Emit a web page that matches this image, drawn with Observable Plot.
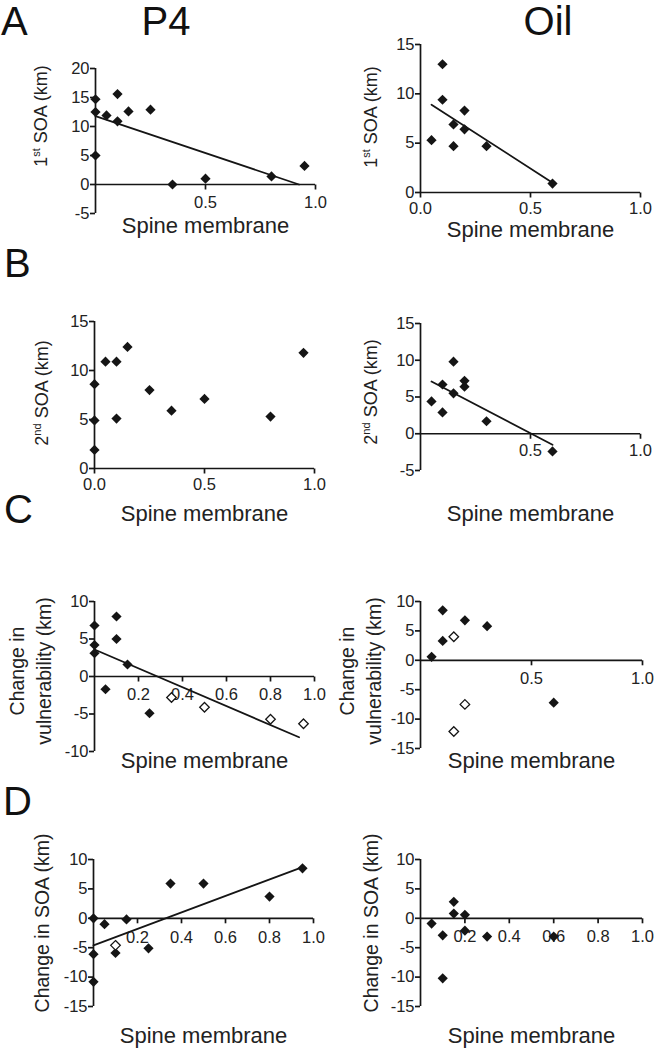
<!DOCTYPE html>
<html><head><meta charset="utf-8">
<script src="https://cdn.jsdelivr.net/npm/d3@7"></script>
<script src="https://cdn.jsdelivr.net/npm/@observablehq/plot@0.6"></script>
<style>
body{margin:0;background:#fff;}
#fig{position:relative;width:667px;height:1049px;overflow:hidden;font-family:"Liberation Sans",Arial,Helvetica,sans-serif;}
#fig .panel{position:absolute;}
#overlay{position:absolute;left:0;top:0;pointer-events:none;}
</style></head><body><div id="fig"></div>
<script>
// ---------------- data ----------------
const titles = ["P4", "Oil"];
const rowLetters = ["A", "B", "C", "D"];
const xTitle = "Spine membrane";

// A: 1st SOA (km)
const A_P4_x = [0, 0, 0, 0.05, 0.1, 0.1, 0.15, 0.25, 0.35, 0.5, 0.8, 0.95];
const A_P4_y = [14.7, 12.5, 5.0, 11.9, 15.6, 10.9, 12.6, 12.9, 0, 1.0, 1.4, 3.2];
const A_P4_lineX = [0, 0.925];
const A_P4_lineY = [11.8, 0];
const A_Oil_x = [0.05, 0.1, 0.1, 0.15, 0.15, 0.2, 0.2, 0.3, 0.6];
const A_Oil_y = [5.3, 13.0, 9.4, 6.9, 4.7, 8.3, 6.4, 4.7, 0.9];
const A_Oil_lineX = [0.05, 0.6];
const A_Oil_lineY = [8.9, 1.0];

// B: 2nd SOA (km)
const B_P4_x = [0, 0, 0, 0.05, 0.1, 0.1, 0.15, 0.25, 0.35, 0.5, 0.8, 0.95];
const B_P4_y = [8.6, 4.9, 1.9, 10.9, 10.9, 5.1, 12.4, 8.0, 5.9, 7.1, 5.3, 11.8];
const B_Oil_x = [0.05, 0.1, 0.1, 0.15, 0.15, 0.2, 0.2, 0.3, 0.6];
const B_Oil_y = [4.4, 6.7, 2.9, 9.8, 5.5, 7.2, 6.4, 1.7, -2.4];
const B_Oil_lineX = [0.05, 0.6];
const B_Oil_lineY = [7.1, -1.5];

// C: change in vulnerability (km)
const C_P4_x = [0, 0, 0, 0.05, 0.1, 0.1, 0.15, 0.25];
const C_P4_y = [6.8, 4.2, 3.1, -1.7, 8.0, 5.0, 1.6, -4.9];
const C_P4_openX = [0.35, 0.5, 0.8, 0.95];
const C_P4_openY = [-2.8, -4.1, -5.7, -6.3];
const C_P4_lineX = [0, 0.93];
const C_P4_lineY = [3.6, -8.1];
const C_Oil_x = [0.05, 0.1, 0.1, 0.2, 0.3, 0.6];
const C_Oil_y = [0.6, 8.5, 3.3, 6.8, 5.8, -7.2];
const C_Oil_openX = [0.15, 0.2, 0.15];
const C_Oil_openY = [4.0, -7.5, -12.1];

// D: change in SOA (km)
const D_P4_x = [0, 0, 0, 0.05, 0.1, 0.15, 0.25, 0.35, 0.5, 0.8, 0.95];
const D_P4_y = [0, -6.1, -10.8, -1.0, -5.9, -0.2, -5.1, 5.9, 5.9, 3.7, 8.5];
const D_P4_openX = [0.1];
const D_P4_openY = [-4.6];
const D_P4_lineX = [0, 0.95];
const D_P4_lineY = [-4.6, 8.7];
const D_Oil_x = [0.05, 0.1, 0.1, 0.15, 0.15, 0.2, 0.2, 0.3, 0.6];
const D_Oil_y = [-0.9, -2.9, -10.2, 2.8, 0.8, 0.6, -2.1, -3.1, -3.1];

// tick values / labels
const yTicks_A_P4 = [-5, 0, 5, 10, 15, 20];
const yTicks_A_Oil = [0, 5, 10, 15];
const yTicks_B_P4 = [0, 5, 10, 15];
const yTicks_B_Oil = [-5, 0, 5, 10, 15];
const yTicks_C_P4 = [-10, -5, 0, 5, 10];
const yTicks_C_Oil = [-15, -10, -5, 0, 5, 10];
const yTicks_D = [-15, -10, -5, 0, 5, 10];
const xTicksHalf = [0.5, 1.0];
const xLabelsHalf = ["0.5", "1.0"];
const xTicksHalf0 = [0, 0.5, 1.0];
const xLabelsHalf0 = ["0.0", "0.5", "1.0"];
const xTicksFifth = [0.2, 0.4, 0.6, 0.8, 1.0];
const xLabelsFifth = ["0.2", "0.4", "0.6", "0.8", "1.0"];

// ---------------- layout ----------------
const FONT = "Liberation Sans, Arial, Helvetica, sans-serif";
const INK = "#151515";
const TICKFONT = 16.5;
const tickDown = {draw(ctx) { ctx.moveTo(0, 0); ctx.lineTo(0, 5); }};

const panels = [
  {left: 0, top: 40, width: 333, height: 200, mL: 95, mR: 18, mT: 28, mB: 27, labelDy: 12, tickDy: 12,
   yDomain: [-5, 20], yTicks: yTicks_A_P4, xTicks: xTicksHalf, xLabels: xLabelsHalf,
   x: A_P4_x, y: A_P4_y, lineX: A_P4_lineX, lineY: A_P4_lineY},
  {left: 333, top: 40, width: 334, height: 200, mL: 87, mR: 27, mT: 4, mB: 48, labelDy: 37, tickDy: 10,
   yDomain: [0, 15], yTicks: yTicks_A_Oil, xTicks: xTicksHalf0, xLabels: xLabelsHalf0,
   x: A_Oil_x, y: A_Oil_y, lineX: A_Oil_lineX, lineY: A_Oil_lineY},
  {left: 0, top: 240, width: 333, height: 290, mL: 94, mR: 19, mT: 81, mB: 62, labelDy: 45, tickDy: 10,
   yDomain: [0, 15], yTicks: yTicks_B_P4, xTicks: xTicksHalf0, xLabels: xLabelsHalf0,
   x: B_P4_x, y: B_P4_y},
  {left: 333, top: 240, width: 334, height: 290, mL: 87, mR: 27, mT: 83, mB: 60, labelDy: 43, tickDy: 11,
   yDomain: [-5, 15], yTicks: yTicks_B_Oil, xTicks: xTicksHalf, xLabels: xLabelsHalf,
   x: B_Oil_x, y: B_Oil_y, lineX: B_Oil_lineX, lineY: B_Oil_lineY},
  {left: 0, top: 530, width: 333, height: 250, mL: 94, mR: 19, mT: 71, mB: 29, labelDy: 9, tickDy: 12,
   yDomain: [-10, 10], yTicks: yTicks_C_P4, xTicks: xTicksFifth, xLabels: xLabelsFifth,
   x: C_P4_x, y: C_P4_y, openX: C_P4_openX, openY: C_P4_openY, lineX: C_P4_lineX, lineY: C_P4_lineY},
  {left: 333, top: 530, width: 334, height: 250, mL: 87, mR: 25, mT: 71, mB: 32, labelDy: 12, tickDy: 12,
   yDomain: [-15, 10], yTicks: yTicks_C_Oil, xTicks: xTicksHalf, xLabels: xLabelsHalf,
   x: C_Oil_x, y: C_Oil_y, openX: C_Oil_openX, openY: C_Oil_openY},
  {left: 0, top: 780, width: 333, height: 269, mL: 93, mR: 20, mT: 79, mB: 43, labelDy: 29, tickDy: 13,
   yDomain: [-15, 10], yTicks: yTicks_D, xTicks: xTicksFifth, xLabels: xLabelsFifth,
   x: D_P4_x, y: D_P4_y, openX: D_P4_openX, openY: D_P4_openY, lineX: D_P4_lineX, lineY: D_P4_lineY},
  {left: 333, top: 780, width: 334, height: 269, mL: 87, mR: 25, mT: 79, mB: 43, labelDy: 29, tickDy: 12,
   yDomain: [-15, 10], yTicks: yTicks_D, xTicks: xTicksFifth, xLabels: xLabelsFifth,
   x: D_Oil_x, y: D_Oil_y}
];

const fig = document.getElementById("fig");

for (const p of panels) {
  const marks = [
    Plot.ruleX([0], {y1: p.yDomain[0], y2: p.yDomain[1], stroke: INK, strokeWidth: 1.7}),
    Plot.axisY({ticks: p.yTicks, tickFormat: d => String(d), tickSize: 5, tickPadding: 1,
                stroke: INK, strokeWidth: 1.7, fill: "#222", fontSize: TICKFONT, label: null}),
    Plot.ruleY([0], {x1: 0, x2: 1, stroke: INK, strokeWidth: 1.7}),
    Plot.dot(p.xTicks, {x: d => d, y: () => 0, symbol: tickDown, stroke: INK, strokeWidth: 1.7, fill: "none"}),
    Plot.text(p.xTicks, {x: d => d, y: () => 0, text: (d, i) => p.xLabels[i], dy: p.tickDy,
                         lineAnchor: "top", fontSize: TICKFONT, fill: "#222"}),
    Plot.text([xTitle], {frameAnchor: "bottom", lineAnchor: "middle", dy: p.labelDy, fontSize: 22, fill: "#222"})
  ];
  if (p.lineX) {
    marks.push(Plot.line({length: p.lineX.length}, {x: p.lineX, y: p.lineY, stroke: INK, strokeWidth: 1.8}));
  }
  marks.push(Plot.dot({length: p.x.length}, {x: p.x, y: p.y, symbol: "diamond2", r: 4.6, fill: INK}));
  if (p.openX) {
    marks.push(Plot.dot({length: p.openX.length}, {x: p.openX, y: p.openY, symbol: "diamond2", r: 4.3,
                                                   fill: "white", stroke: INK, strokeWidth: 1.3}));
  }
  const svg = Plot.plot({
    width: p.width, height: p.height,
    marginLeft: p.mL, marginRight: p.mR, marginTop: p.mT, marginBottom: p.mB,
    x: {domain: [0, 1], axis: null},
    y: {domain: p.yDomain},
    style: {fontFamily: FONT, fontSize: TICKFONT + "px", color: INK, background: "transparent", overflow: "visible"},
    marks
  });
  svg.classList.add("panel");
  svg.style.left = p.left + "px";
  svg.style.top = p.top + "px";
  fig.appendChild(svg);
}

// ---------------- titles, panel letters, y titles ----------------
const ov = d3.select(fig).append("svg").attr("id", "overlay")
  .attr("width", 667).attr("height", 1049)
  .style("font-family", FONT).attr("fill", "#111");

const letterPos = [[1, 35], [4, 277], [4, 523], [3, 815]];
rowLetters.forEach((L, i) => {
  ov.append("text").attr("x", letterPos[i][0]).attr("y", letterPos[i][1])
    .attr("font-size", 40).text(L);
});
const titlePos = [[166, 35], [548, 35]];
titles.forEach((t, i) => {
  ov.append("text").attr("x", titlePos[i][0]).attr("y", titlePos[i][1])
    .attr("text-anchor", "middle").attr("font-size", 40).text(t);
});

function yTitle(cx, cy, size, build) {
  const t = ov.append("text")
    .attr("transform", `translate(${cx},${cy}) rotate(-90)`)
    .attr("text-anchor", "middle").attr("font-size", size).attr("fill", "#222");
  build(t);
}
function soa(ord, base) {
  return t => {
    t.append("tspan").attr("dy", "0.35em").text(base);
    t.append("tspan").attr("dy", -7).attr("font-size", 11).text(ord);
    t.append("tspan").attr("dy", 7).text(" SOA (km)");
  };
}
yTitle(41, 116, 18, soa("st", "1"));
yTitle(371, 117, 18, soa("st", "1"));
yTitle(42, 393, 18, soa("nd", "2"));
yTitle(371, 392, 18, soa("nd", "2"));
function vuln() {
  return t => {
    t.append("tspan").attr("x", 0).attr("dy", "-0.34em").text("Change in");
    t.append("tspan").attr("x", 0).attr("dy", 27).text("vulnerability (km)");
  };
}
yTitle(31, 671, 19.5, vuln());
yTitle(361, 671, 19.5, vuln());
yTitle(42, 923, 19.5, t => t.append("tspan").attr("dy", "0.35em").text("Change in SOA (km)"));
yTitle(371, 923, 19.5, t => t.append("tspan").attr("dy", "0.35em").text("Change in SOA (km)"));
</script></body></html>
